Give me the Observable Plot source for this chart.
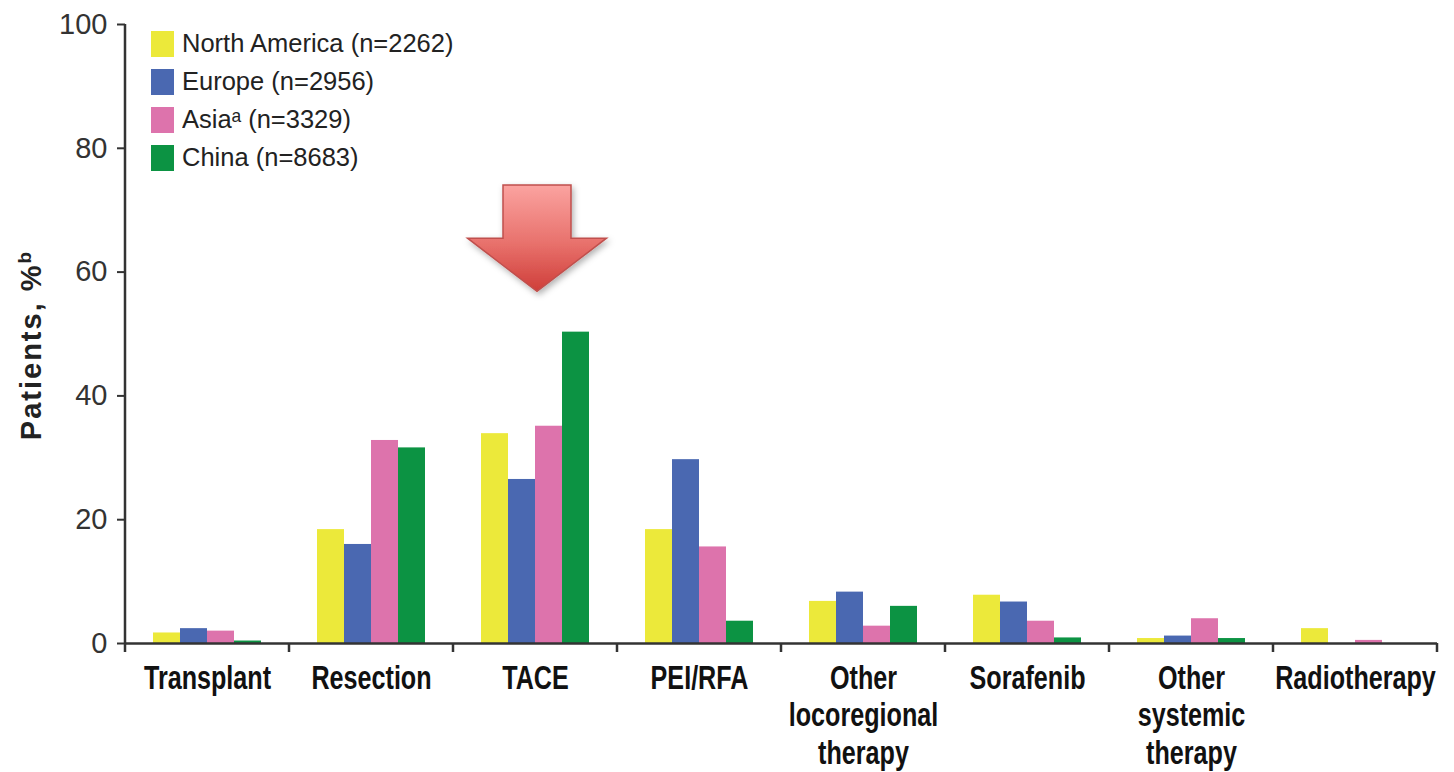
<!DOCTYPE html>
<html>
<head>
<meta charset="utf-8">
<script src="https://cdn.jsdelivr.net/npm/d3@7"></script>
<script src="https://cdn.jsdelivr.net/npm/@observablehq/plot@0.6"></script>
<style>
  html, body { margin: 0; padding: 0; background: #fff; }
  #chart { position: relative; width: 1454px; height: 772px; }
  #legend { position: absolute; left: 151px; top: 29px; width: 460px; }
  #legend div { font-family: "Liberation Sans", Arial, sans-serif; font-size: 25.5px; color: #222; }
  #legend svg { margin-right: 8px; }
  #legend [class$="-swatch"] { padding-bottom: 9px; }
</style>
</head>
<body>
<div id="chart"><div id="legend"></div></div>
<script>
// Treatment categories along the x axis
const categories = ["Transplant", "Resection", "TACE", "PEI/RFA", "Other locoregional therapy", "Sorafenib", "Other systemic therapy", "Radiotherapy"];
const categoryLabels = ["Transplant", "Resection", "TACE", "PEI/RFA", "Other\nlocoregional\ntherapy", "Sorafenib", "Other\nsystemic\ntherapy", "Radiotherapy"];

// Regions (series), cohort sizes and colours
const regions = ["North America", "Europe", "Asia", "China"];
const regionN = [2262, 2956, 3329, 8683];
const regionMarks = ["", "", "\u1d43", ""];
const regionColors = ["#ECE93A", "#4A68B1", "#DD73AC", "#0C9343"];

// Percentage of patients per category (null = not reported)
const northAmerica = [1.7, 18.4, 33.9, 18.4, 6.8, 7.8, 0.8, 2.4];
const europe       = [2.4, 16.0, 26.5, 29.7, 8.3, 6.7, 1.2, null];
const asia         = [2.0, 32.8, 35.1, 15.6, 2.8, 3.6, 4.0, 0.5];
const china        = [0.4, 31.6, 50.3, 3.6, 6.0, 0.9, 0.8, null];

const yTicks = [0, 20, 40, 60, 80, 100];

// Highlight arrow over TACE, in percent units
const arrowCategory = "TACE";
const arrowTop = 74;
const arrowShoulder = 65.4;
const arrowTip = 56.8;

const seriesValues = [northAmerica, europe, asia, china];
const rows = [];
regions.forEach((region, r) => {
  categories.forEach((category, c) => {
    const value = seriesValues[r][c];
    if (value != null) rows.push({category, region, value});
  });
});
const labelOf = Object.fromEntries(categories.map((c, i) => [c, categoryLabels[i]]));

const plot = Plot.plot({
  width: 1454,
  height: 772,
  marginLeft: 123,
  marginRight: 16,
  marginTop: 24,
  marginBottom: 129,
  style: {fontFamily: "'Liberation Sans', Arial, sans-serif", background: "#fff", overflow: "visible"},
  fx: {domain: categories, paddingInner: 0, paddingOuter: 0, label: null},
  x: {domain: regions, paddingInner: 0, paddingOuter: 0.962, axis: null},
  y: {domain: [0, 100], label: null},
  color: {domain: regions, range: regionColors},
  marks: [
    Plot.barY(rows, {fx: "category", x: "region", y: "value", fill: "region"}),
    Plot.ruleY([0], {stroke: "#333", strokeWidth: 2.5}),
    Plot.axisY({ticks: yTicks, tickSize: 8, tickPadding: 10, fontSize: 29, color: "#333", strokeWidth: 2, label: null}),
    Plot.axisFx({
      anchor: "bottom", tickSize: 0, tickPadding: 19, label: null,
      fontSize: 34, fontWeight: "bold",
      fontFamily: "'Liberation Sans', Arial, sans-serif",
      lineHeight: 1.1, fill: "#111",
      tickFormat: c => labelOf[c]
    })
  ]
});

document.getElementById("chart").prepend(plot);

const svg = d3.select(plot);

// Condensed category labels
svg.selectAll('[aria-label="fx-axis tick label"] text')
  .attr("transform", function () { return (this.getAttribute("transform") || "") + " scale(0.74,1)"; });

// Category boundary ticks and y-axis line
const fx = plot.scale("fx");
const y = plot.scale("y");
const y0 = y.apply(0);
const edges = categories.map(c => fx.apply(c)).concat([fx.apply(categories[categories.length - 1]) + fx.bandwidth]);

const deco = svg.append("g").attr("stroke", "#333").attr("stroke-width", 2.5);
deco.append("line")
  .attr("x1", edges[0]).attr("x2", edges[0])
  .attr("y1", y.apply(100)).attr("y2", y0 + 9);
deco.selectAll("line.edge").data(edges.slice(1)).join("line")
  .attr("class", "edge")
  .attr("x1", d => d).attr("x2", d => d)
  .attr("y1", y0).attr("y2", y0 + 9);

// Rotated y-axis title
const title = svg.append("text")
  .attr("transform", "translate(41,345) rotate(-90)")
  .attr("text-anchor", "middle")
  .attr("font-family", "'Liberation Sans', Arial, sans-serif")
  .attr("font-weight", "bold")
  .attr("font-size", 29)
  .attr("letter-spacing", 2)
  .attr("fill", "#222");
title.append("tspan").text("Patients, %");
title.append("tspan").attr("baseline-shift", "super").attr("font-size", 19).text("b");

// Highlight arrow
const defs = svg.append("defs");
const grad = defs.append("linearGradient").attr("id", "arrowFill").attr("x1", 0).attr("y1", 0).attr("x2", 0).attr("y2", 1);
grad.append("stop").attr("offset", "0%").attr("stop-color", "#FBA3A0");
grad.append("stop").attr("offset", "55%").attr("stop-color", "#E8716C");
grad.append("stop").attr("offset", "100%").attr("stop-color", "#CF3E39");
const shadow = defs.append("filter").attr("id", "arrowShadow").attr("x", "-20%").attr("y", "-20%").attr("width", "150%").attr("height", "150%");
shadow.append("feDropShadow").attr("dx", 2).attr("dy", 3).attr("stdDeviation", 3).attr("flood-color", "#000").attr("flood-opacity", 0.3);

const cx = fx.apply(arrowCategory) + fx.bandwidth / 2 + 2;
const shaftHalf = 34, headHalf = 69.5;
const pts = [
  [cx - shaftHalf, y.apply(arrowTop)],
  [cx + shaftHalf, y.apply(arrowTop)],
  [cx + shaftHalf, y.apply(arrowShoulder)],
  [cx + headHalf, y.apply(arrowShoulder)],
  [cx, y.apply(arrowTip)],
  [cx - headHalf, y.apply(arrowShoulder)],
  [cx - shaftHalf, y.apply(arrowShoulder)]
];
svg.append("path")
  .attr("d", "M" + pts.map(p => p.join(",")).join("L") + "Z")
  .attr("fill", "url(#arrowFill)")
  .attr("stroke", "#C0504D")
  .attr("stroke-width", 1.5)
  .attr("filter", "url(#arrowShadow)");

// Legend
const legend = plot.legend("color", {
  columns: 1,
  swatchWidth: 23,
  swatchHeight: 26,
  tickFormat: d => {
    const i = regions.indexOf(d);
    return `${d}${regionMarks[i]} (n=${regionN[i]})`;
  }
});
document.getElementById("legend").append(legend);
</script>
</body>
</html>
